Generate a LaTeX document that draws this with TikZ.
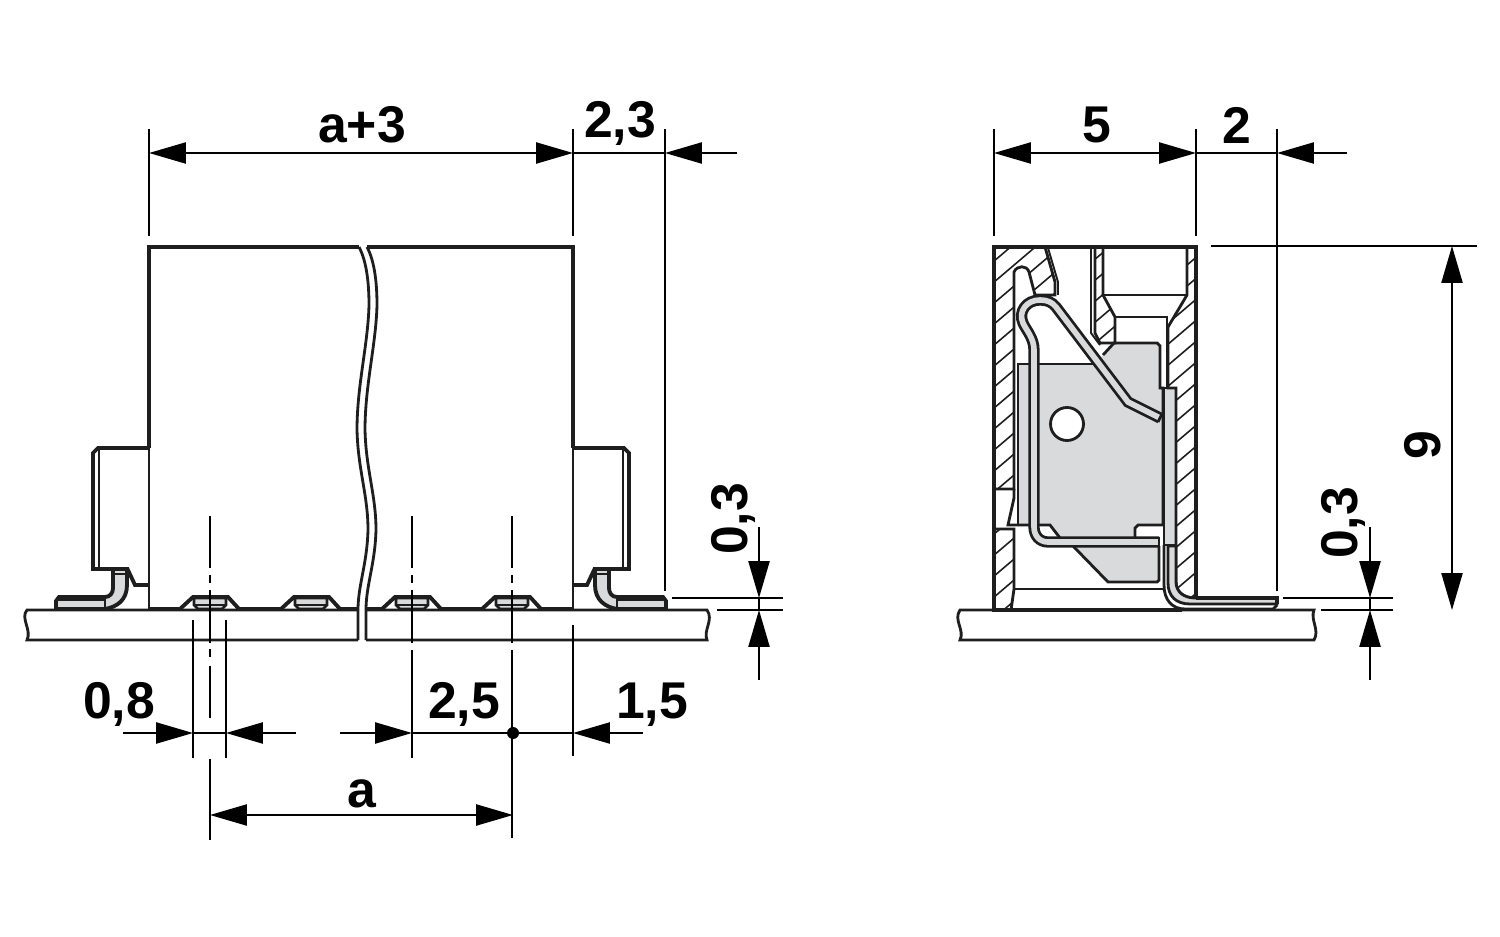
\documentclass[tikz,border=0pt]{standalone}
\usepackage{fontspec}
\setmainfont{Liberation Sans}
\usetikzlibrary{arrows.meta}
\definecolor{partgray}{HTML}{D9DADB}
\definecolor{inkblack}{HTML}{1E1E1E}
\tikzset{
  >={Triangle[length=10.5pt,width=6pt]},
  thinline/.style={line width=.55pt,draw=inkblack},
  midline/.style={line width=.8pt,draw=inkblack},
  heavyline/.style={line width=1.1pt,draw=inkblack},
  hatchline/.style={line width=.45pt,draw=inkblack},
  dimline/.style={line width=.55pt,draw=black},
  dimtext/.style={inner sep=0pt,font=\bfseries\fontsize{14.7}{16}\selectfont},
  springline/.style={line width=.8pt,draw=inkblack,double=partgray,double distance=1.6pt}
}
\newcommand*{\hatched}[1]{%
  \begin{scope}
    \clip #1;
    \foreach \hy in {320,341,...,880}
      \draw[hatchline] (900,\hy) -- ++(400,-340);
  \end{scope}
  \draw[midline] #1;
}
\newcommand*{\solderpad}[1]{%
  \begin{scope}[shift={(#1,0)}]
    \draw[heavyline,fill=white] (-30,609) -- (-17,597) -- (18,597) -- (29,609);
    \draw[midline,fill=partgray] (-16,598) -- (-16,605) -- (-12,609) -- (12,609) -- (16,605) -- (16,598) -- cycle;
    \draw[thinline] (-16,605) -- (16,605);
  \end{scope}
}
\newcommand*{\sidetab}{%
  \draw[heavyline] (149,448) -- (98,448) -- (93,453) -- (93,569) -- (113,569);
  \draw[thinline] (99,449) -- (99,569);
  \draw[heavyline] (127,568) -- (135,585) -- (149,585);
  \draw[heavyline,fill=partgray] (113,569) -- (113,588) .. controls (113,593) and (110,597) .. (105,597)
    -- (59,597) -- (56,601) -- (56,609) -- (105,609)
    .. controls (117,607) and (127,600) .. (127,585) -- (127,569) -- cycle;
  \draw[thinline] (59,600) -- (105,600) -- (105,609);
  \draw[thinline] (113,574) -- (127,574);
}
\begin{document}
\begin{tikzpicture}[x=.01cm,y=-.01cm]
\useasboundingbox (0,0) rectangle (1500,937);

% Side view, body
\draw[heavyline] (149,448) -- (149,247) -- (359,247);
\draw[heavyline] (367,247) -- (573,247) -- (573,448);
\draw[midline] (149,448) -- (149,610);
\draw[midline] (573,448) -- (573,610);
\draw[heavyline] (149,609) -- (358,609);
\draw[heavyline] (366,609) -- (573,609);

% Side view, tabs
\sidetab
\begin{scope}[shift={(722,0)},xscale=-1]
  \sidetab
\end{scope}

% Side view, pads
\foreach \px in {210,311,412,512}{
  \solderpad{\px}
}

% Side view, board
\draw[midline] (358,610) -- (27,610) .. controls (20,618) and (32,630) .. (27,640) -- (358,640);
\draw[midline] (366,610) -- (707,610) .. controls (714,620) and (703,630) .. (707,640) -- (366,640);

% Side view, break line
\draw[midline] (359,247) .. controls (367,262) and (369,285) .. (369,305)
  .. controls (368,345) and (357,385) .. (357,430)
  .. controls (358,470) and (368,495) .. (368,530)
  .. controls (367,565) and (358,585) .. (358,610) -- (358,640);
\draw[midline] (367,247) .. controls (375,262) and (377,285) .. (377,305)
  .. controls (376,345) and (365,385) .. (365,430)
  .. controls (366,470) and (376,495) .. (376,530)
  .. controls (375,565) and (366,585) .. (366,610) -- (366,640);

% Side view, centre lines
\foreach \cx in {210,412,512}{
  \draw[dimline] (\cx,516) -- (\cx,568);
  \draw[dimline] (\cx,575) -- (\cx,583);
  \draw[dimline] (\cx,590) -- (\cx,643);
}
\draw[dimline] (210,649) -- (210,657);
\draw[dimline] (210,666) -- (210,718);
\draw[dimline] (412,650) -- (412,758);
\draw[dimline] (512,650) -- (512,838);
\draw[dimline] (210,759) -- (210,840);

% Section, grey parts
\fill[partgray] (1018,525) -- (1018,364) -- (1095,364) -- (1103,355) -- (1114,343) -- (1157,343)
  -- (1160,346) -- (1160,388) -- (1163,388) -- (1163,525) -- (1138,525) -- (1135,528) -- (1135,538)
  -- (1060,538) -- (1050,525) -- cycle;
\draw[midline] (1018,525) -- (1018,364) -- (1095,364);
\draw[midline] (1103,355) -- (1114,343) -- (1157,343) -- (1160,346) -- (1160,388) -- (1163,388) -- (1163,525)
  -- (1138,525) -- (1135,528) -- (1135,538);
\draw[midline] (1018,525) -- (1050,525) -- (1060,538);
\draw[midline,fill=partgray] (1073,546) -- (1108,582) -- (1157,582) -- (1159,580) -- (1159,546);
\draw[midline,fill=partgray] (1164,388) rectangle (1176,545);
\draw[midline,fill=white] (1067,424) circle (16.5);

% Section, hatched walls
\hatched{(994,247) -- (1045,247) -- (1055,282) -- (1055,295) -- (1035,295) -- (1029,272)
  .. controls (1027,265) and (1017,265) .. (1014,272) -- (1014,489) -- (994,489) -- cycle}
\hatched{(994,529) -- (1014,529) -- (1014,589) -- (1011,610) -- (994,610) -- cycle}
\hatched{(1095,247) -- (1103,247) -- (1103,295) -- (1115,317) -- (1115,343) -- (1100,343) -- (1095,333) -- cycle}
\hatched{(1187,247) -- (1196,247) -- (1196,598) -- (1195,598) .. controls (1184,598) and (1176,592) .. (1176,582)
  -- (1176,388) -- (1168,388) -- (1168,327) -- (1187,295) -- cycle}

% Section, inner lines
\draw[midline] (1103,295) -- (1187,295);
\draw[midline] (1115,317) -- (1167,317) -- (1167,388);
\draw[thinline] (1048,248) -- (1058,282) -- (1058,295);
\draw[thinline] (1091,247) -- (1091,333) -- (1100,345);
\draw[midline] (1014,489) -- (1014,498) -- (1008,525) -- (1018,525);
\draw[midline] (1014,589) -- (1163,589);

% Section, spring
\draw[springline] (1159,542) -- (1048,542) .. controls (1039,542) and (1034,535) .. (1034,527)
  -- (1034,350) .. controls (1034,338) and (1026,330) .. (1023,323)
  .. controls (1018,312) and (1026,300) .. (1040,300)
  .. controls (1047,300) and (1052,302) .. (1056,307) -- (1128,402) -- (1160,418);
\draw[midline] (1158,422) -- (1162,414);
\draw[midline] (1159,537) -- (1159,547);

% Section, pin
\draw[midline] (1164,545) -- (1164,585) .. controls (1164,600) and (1172,609) .. (1185,609) -- (1273,609) -- (1277,605);
\draw[midline,fill=partgray] (1168,546) -- (1168,583) .. controls (1168,596) and (1176,604) .. (1190,604)
  -- (1277,604) -- (1277,598) -- (1195,598) .. controls (1184,598) and (1176,592) .. (1176,582) -- (1176,546) -- cycle;
\draw[heavyline] (1196,598) -- (1277,598) -- (1277,604);

% Section, outline and board
\draw[heavyline] (1182,610) -- (994,610) -- (994,247) -- (1196,247) -- (1196,598);
\draw[midline] (1273,610) -- (960,610) .. controls (953,620) and (965,630) .. (960,640) -- (1314,640)
  .. controls (1320,630) and (1310,620) .. (1314,610) -- (1273,610);

% Top dimensions, side view
\coordinate (AL) at (149,153);
\coordinate (AR) at (573,153);
\coordinate (BR) at (665,153);
\coordinate (BT) at (737,153);
\draw[dimline] (149,129) -- (149,236);
\draw[dimline] (573,129) -- (573,236);
\draw[dimline] (665,129) -- (665,591);
\draw[dimline,<->] (AL) -- (AR);
\draw[dimline] (AR) -- (BR);
\draw[dimline,->] (BT) -- (BR);
\node[dimtext] (widthlabel) at (362,125) {a+3};
\node[dimtext] (overlabel) at (620,123.5) {2,3};

% Top dimensions, section
\coordinate (CL) at (994,153);
\coordinate (CR) at (1196,153);
\coordinate (DR) at (1277,153);
\coordinate (DT) at (1347,153);
\draw[dimline] (994,129) -- (994,236);
\draw[dimline] (1196,129) -- (1196,236);
\draw[dimline] (1277,129) -- (1277,591);
\draw[dimline,<->] (CL) -- (CR);
\draw[dimline] (CR) -- (DR);
\draw[dimline,->] (DT) -- (DR);
\node[dimtext] (depthlabel) at (1097,125) {5};
\node[dimtext] (pinlabel) at (1237,125) {2};

% Height dimension
\coordinate (HT) at (1452,246);
\coordinate (HB) at (1452,610);
\draw[dimline] (1211,246) -- (1477,246);
\draw[dimline,<->] (HT) -- (HB);
\node[dimtext,rotate=90] (heightlabel) at (1423,445) {9};

% Gap dimension, side view
\coordinate (GA) at (759,527);
\coordinate (GB) at (759,598);
\coordinate (GC) at (759,610);
\coordinate (GD) at (759,680);
\draw[dimline] (672,598) -- (783,598);
\draw[dimline] (717,610) -- (783,610);
\draw[dimline,->] (GA) -- (GB);
\draw[dimline,->] (GD) -- (GC);
\draw[dimline] (GB) -- (GC);
\node[dimtext,rotate=90] (gaplabel) at (733,519) {0,3};

% Gap dimension, section
\coordinate (JA) at (1370,527);
\coordinate (JB) at (1370,598);
\coordinate (JC) at (1370,610);
\coordinate (JD) at (1370,680);
\draw[dimline] (1283,598) -- (1393,598);
\draw[dimline] (1321,610) -- (1393,610);
\draw[dimline,->] (JA) -- (JB);
\draw[dimline,->] (JD) -- (JC);
\draw[dimline] (JB) -- (JC);
\node[dimtext,rotate=90] (sectgaplabel) at (1343,523) {0,3};

% Bottom dimensions
\coordinate (PA) at (123,733);
\coordinate (PB) at (193,733);
\coordinate (PC) at (226,733);
\coordinate (PD) at (296,733);
\coordinate (QA) at (340,733);
\coordinate (QB) at (412,733);
\coordinate (QC) at (513,733);
\coordinate (QD) at (573,733);
\coordinate (QE) at (643,733);
\coordinate (RA) at (210,815);
\coordinate (RB) at (513,815);
\draw[dimline] (193,620) -- (193,758);
\draw[dimline] (226,620) -- (226,758);
\draw[dimline] (573,625) -- (573,756);
\draw[dimline,->] (PA) -- (PB);
\draw[dimline] (PB) -- (PC);
\draw[dimline,->] (PD) -- (PC);
\draw[dimline,->] (QA) -- (QB);
\draw[dimline] (QB) -- (QD);
\draw[dimline,->] (QE) -- (QD);
\draw[dimline,<->] (RA) -- (RB);
\fill[black] (QC) circle (6);
\node[dimtext] (padlabel) at (119,704.5) {0,8};
\node[dimtext] (offsetlabel) at (464,704.5) {2,5};
\node[dimtext] (edgelabel) at (652,704.5) {1,5};
\node[dimtext] (pitchlabel) at (362,794) {a};
\end{tikzpicture}
\end{document}
